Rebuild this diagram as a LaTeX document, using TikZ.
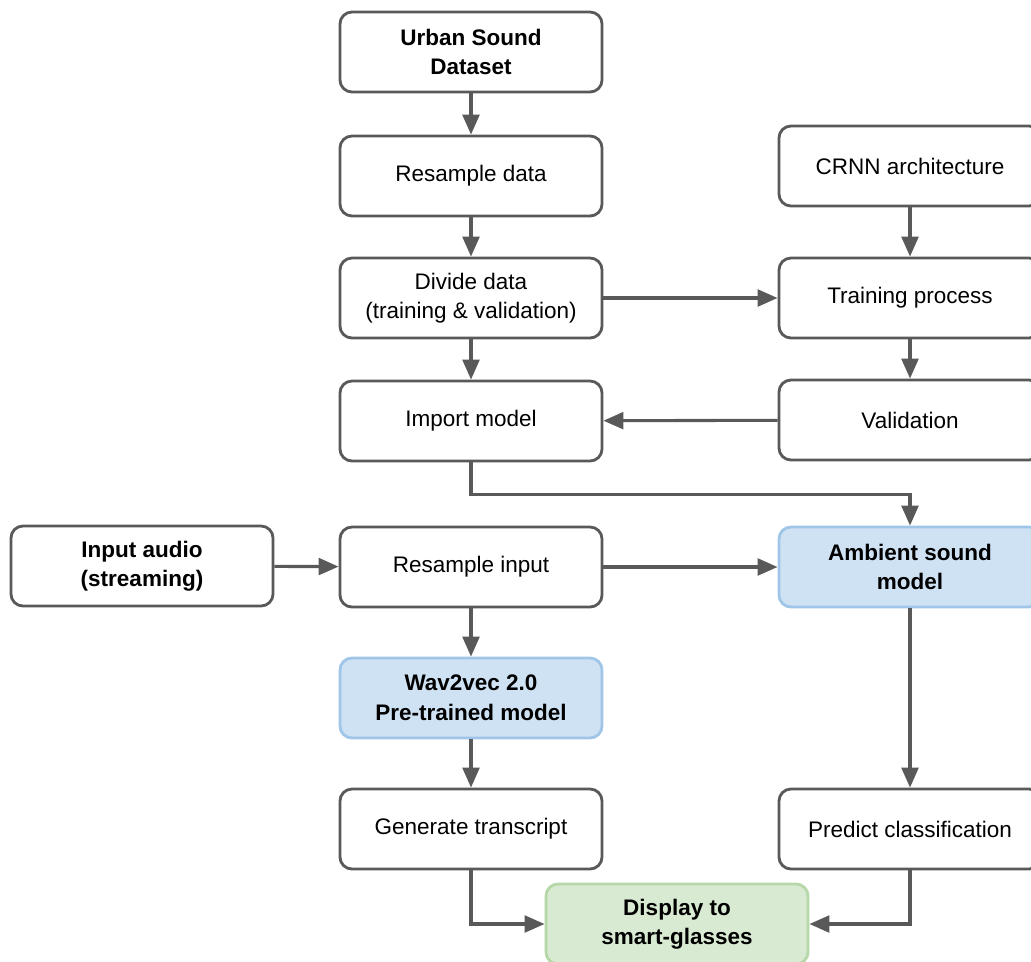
\documentclass[tikz,border=0pt]{standalone}
\usepackage{fontspec}
\setmainfont{Liberation Sans}
\usetikzlibrary{arrows.meta}
\definecolor{linegray}{HTML}{595959}
\definecolor{bluefill}{HTML}{CFE2F3}
\definecolor{blueline}{HTML}{9FC5E8}
\definecolor{greenfill}{HTML}{D9EAD3}
\definecolor{greenline}{HTML}{B6D7A8}
\begin{document}
\begin{tikzpicture}[x=0.025cm, y=-0.025cm,
		box/.style={draw=linegray, line width=2pt, rounded corners=0.3cm, fill=white,
			minimum width=6.55cm, minimum height=2cm, align=center,
			font=\fontsize{16}{21}\selectfont},
		bluebox/.style={box, draw=blueline, fill=bluefill, font=\fontsize{16}{21}\selectfont\bfseries},
		greenbox/.style={box, draw=greenline, fill=greenfill, font=\fontsize{16}{21}\selectfont\bfseries},
		arr/.style={draw=linegray, line width=2.2pt, -{Triangle[length=0.5cm, width=0.42cm]}}]
		\useasboundingbox (0, 0) rectangle (1031, 961);

		% left column
		\node[box, font=\fontsize{16}{21}\selectfont\bfseries] (dataset) at (471, 52) {Urban Sound\\Dataset};
		\node[box] (resample) at (471, 176) {Resample data};
		\node[box] (divide) at (471, 298) {Divide data\\(training \& validation)};
		\node[box] (import) at (471, 421) {Import model};

		% right column
		\node[box] (crnn) at (910, 166) {CRNN architecture};
		\node[box] (training) at (910, 298) {Training process};
		\node[box] (validation) at (910, 420) {Validation};

		% inference
		\node[box, font=\fontsize{16}{21}\selectfont\bfseries] (input) at (142, 566) {Input audio\\(streaming)};
		\node[box] (resinput) at (471, 567) {Resample input};
		\node[bluebox] (ambient) at (910, 567) {Ambient sound\\model};
		\node[bluebox] (wav2vec) at (471, 698) {Wav2vec 2.0\\Pre-trained model};
		\node[box] (transcript) at (471, 829) {Generate transcript};
		\node[box] (predict) at (910, 829) {Predict classification};
		\node[greenbox] (display) at (677, 924) {Display to\\smart-glasses};

		\draw[arr] (dataset) -- (resample);
		\draw[arr] (resample) -- (divide);
		\draw[arr] (divide) -- (import);
		\draw[arr] (divide) -- (training);
		\draw[arr] (crnn) -- (training);
		\draw[arr] (training) -- (validation);
		\draw[arr] (validation) -- (import);
		\draw[arr] (import.south) -- ++(0, 32) -| (ambient.north);

		\draw[arr] (input) -- (resinput);
		\draw[arr] (resinput) -- (ambient);
		\draw[arr] (resinput) -- (wav2vec);
		\draw[arr] (wav2vec) -- (transcript);
		\draw[arr] (ambient) -- (predict);
		\draw[arr] (transcript.south) |- (display.west);
		\draw[arr] (predict.south) |- (display.east);
	\end{tikzpicture}
\end{document}
